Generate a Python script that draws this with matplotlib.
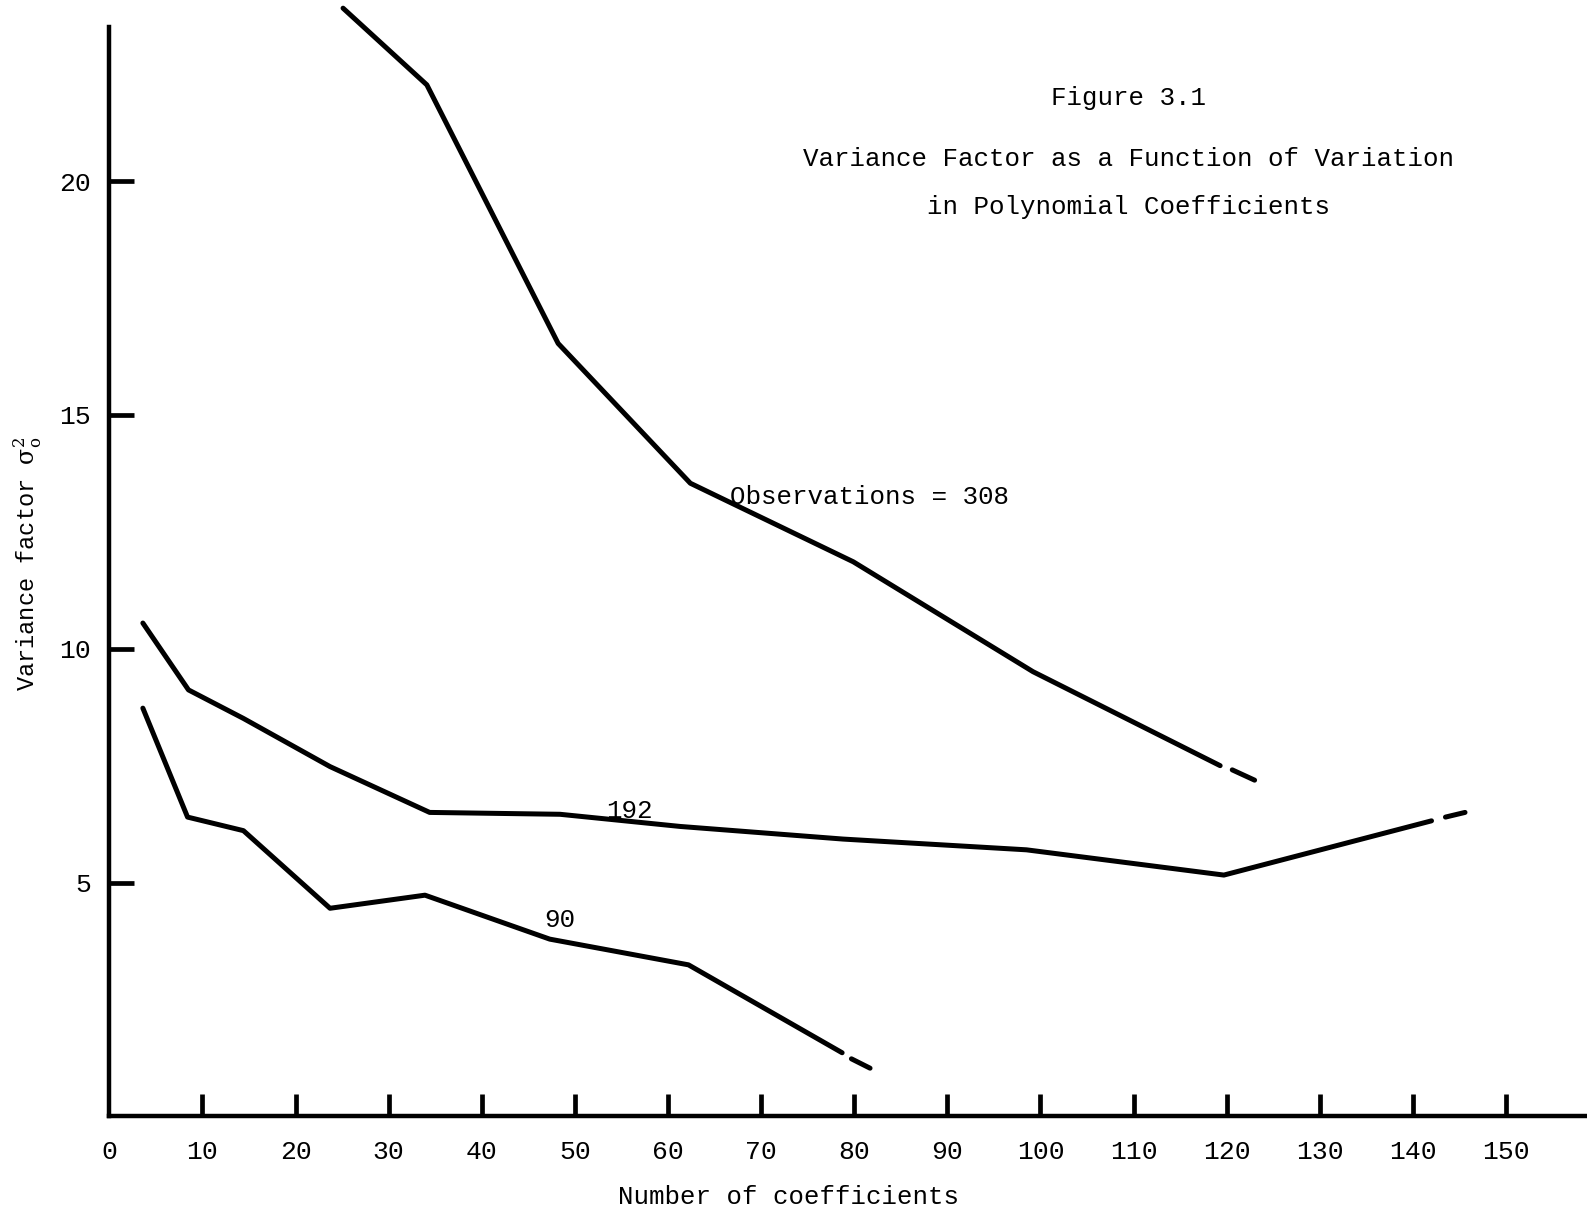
import matplotlib
matplotlib.use('Agg')
import matplotlib.pyplot as plt

# values (number of coefficients, variance factor)
obs308_x = [25.1, 34.1, 48.2, 62.4, 79.9, 99.2, 119.3]
obs308_y = [23.70, 22.06, 16.53, 13.54, 11.86, 9.51, 7.50]
obs308_ext_x = [120.6, 123.0]
obs308_ext_y = [7.41, 7.19]

obs192_x = [3.6, 8.5, 14.4, 23.7, 34.4, 48.4, 61.3, 78.8, 98.5, 119.7, 142.0]
obs192_y = [10.55, 9.12, 8.51, 7.48, 6.50, 6.46, 6.20, 5.93, 5.70, 5.16, 6.32]
obs192_ext_x = [143.5, 145.6]
obs192_ext_y = [6.40, 6.50]

obs90_x = [3.6, 8.4, 14.4, 23.7, 33.9, 47.3, 62.2, 78.7]
obs90_y = [8.73, 6.40, 6.11, 4.45, 4.73, 3.79, 3.24, 1.36]
obs90_ext_x = [79.7, 81.7]
obs90_ext_y = [1.23, 1.03]

x_ticks = list(range(0, 151, 10))
y_ticks = [5, 10, 15, 20]

FONT = 'Liberation Mono'
plt.rcParams['font.family'] = [FONT, 'DejaVu Sans']
plt.rcParams['mathtext.fontset'] = 'dejavuserif'

fig = plt.figure(figsize=(15.87, 12.15), dpi=100)
ax = fig.add_axes([0.0689, 0.0812, 0.9311, 0.9188])

line_kw = dict(color='black', lw=3.6, solid_capstyle='round',
               solid_joinstyle='round')
for xs, ys, ex, ey in [(obs308_x, obs308_y, obs308_ext_x, obs308_ext_y),
                       (obs192_x, obs192_y, obs192_ext_x, obs192_ext_y),
                       (obs90_x, obs90_y, obs90_ext_x, obs90_ext_y)]:
    ax.plot(xs, ys, **line_kw)
    ax.plot(ex, ey, **line_kw)

ax.set_xlim(0, 158.7)
ax.set_ylim(0, 23.875)

for s in ['top', 'right']:
    ax.spines[s].set_visible(False)
ax.spines['left'].set_linewidth(3.2)
ax.spines['bottom'].set_linewidth(3.2)
ax.spines['left'].set_bounds(0, 23.3)

ax.set_xticks(x_ticks)
ax.set_xticklabels([str(t) for t in x_ticks])
ax.set_yticks(y_ticks)
ax.set_yticklabels([str(t) for t in y_ticks])
ax.tick_params(axis='x', direction='in', length=16, width=3.4, pad=17,
               labelsize=19)
ax.tick_params(axis='y', direction='in', length=18, width=3.4, pad=13,
               labelsize=19)
# no tick mark at the origin, only its label
ax.xaxis.get_major_ticks()[0].tick1line.set_visible(False)

# curve labels
ax.text(66.7, 13.25, 'Observations = 308', fontsize=18.6, ha='left', va='center')
ax.text(55.9, 6.52, '192', fontsize=18.6, ha='center', va='center')
ax.text(48.4, 4.20, '90', fontsize=18.6, ha='center', va='center')

# titles and axis labels
fig.text(0.711, 0.919, 'Figure 3.1', fontsize=18.6, ha='center', va='center')
fig.text(0.711, 0.869, 'Variance Factor as a Function of Variation',
         fontsize=18.6, ha='center', va='center')
fig.text(0.711, 0.830, 'in Polynomial Coefficients', fontsize=18.6,
         ha='center', va='center')
fig.text(0.4966, 0.015, 'Number of coefficients', fontsize=18.5,
         ha='center', va='center')
fig.text(0.0178, 0.536, r'Variance factor $\mathrm{\sigma}^2_{\mathrm{o}}$',
         fontsize=17, ha='center', va='center', rotation=90)

fig.savefig('out.png', dpi=100)
